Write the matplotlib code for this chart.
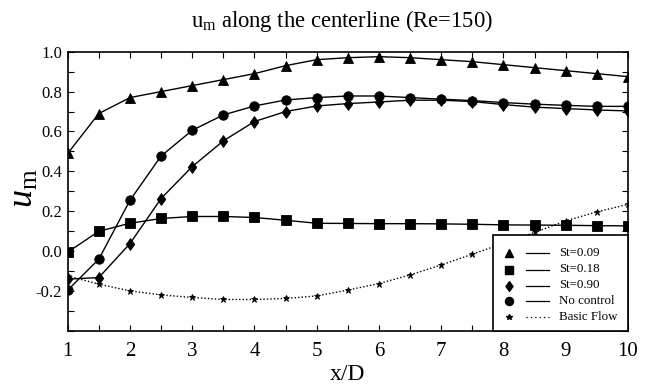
import matplotlib
matplotlib.use("Agg")
import matplotlib.pyplot as plt
from matplotlib.ticker import MultipleLocator, FixedLocator
from matplotlib.patches import Rectangle

plt.rcParams['font.family'] = ['Liberation Serif', 'DejaVu Serif']
plt.rcParams['mathtext.fontset'] = 'custom'
plt.rcParams['mathtext.rm'] = 'Liberation Serif'
plt.rcParams['mathtext.it'] = 'Liberation Serif:italic'
plt.rcParams['axes.unicode_minus'] = False

x = [1, 1.5, 2, 2.5, 3, 3.5, 4, 4.5, 5, 5.5, 6, 6.5, 7, 7.5, 8, 8.5, 9, 9.5, 10]
st009 = [0.49, 0.69, 0.77, 0.80, 0.83, 0.86, 0.89, 0.93, 0.96, 0.97, 0.975, 0.97, 0.96, 0.95, 0.935, 0.92, 0.905, 0.89, 0.875]
st018 = [-0.005, 0.10, 0.14, 0.164, 0.174, 0.174, 0.169, 0.155, 0.14, 0.139, 0.138, 0.138, 0.137, 0.135, 0.132, 0.131, 0.13, 0.128, 0.127]
st090 = [-0.14, -0.132, 0.038, 0.264, 0.424, 0.553, 0.65, 0.70, 0.728, 0.74, 0.748, 0.757, 0.757, 0.75, 0.735, 0.722, 0.715, 0.708, 0.703]
noctrl = [-0.195, -0.04, 0.255, 0.477, 0.606, 0.683, 0.728, 0.758, 0.77, 0.778, 0.778, 0.77, 0.762, 0.755, 0.745, 0.737, 0.731, 0.726, 0.726]
basic = [-0.124, -0.165, -0.199, -0.219, -0.232, -0.242, -0.242, -0.237, -0.224, -0.195, -0.162, -0.119, -0.069, -0.015, 0.04, 0.094, 0.152, 0.197, 0.235]

labels = ['St=0.09', 'St=0.18', 'St=0.90', 'No control', 'Basic Flow']

diamond = [(0, 1), (0.72, 0), (0, -1), (-0.72, 0), (0, 1)]
markers = ['^', 's', diamond, 'o', '*']
msizes = [7.5, 6.5, 8.5, 6.8, 5]
leg_ms = [5.5, 5.2, 7, 5.8, 4]
styles = ['-', '-', '-', '-', (0, (1, 1.5))]

W, H = 649, 385
fig = plt.figure(figsize=(W / 100, H / 100), dpi=100)
L, R, T, B = 67.7, 628, 51.7, 331
ax = fig.add_axes([L / W, 1 - B / H, (R - L) / W, (B - T) / H])

series = [st009, st018, st090, noctrl, basic]
for ys, m, ms, st in zip(series, markers, msizes, styles):
    ax.plot(x, ys, color='black', lw=1.0, ls=st, marker=m, ms=ms, mew=0.6, zorder=3)

ax.set_xlim(1, 10)
ax.set_ylim(-0.4, 1.0)
ax.xaxis.set_major_locator(MultipleLocator(1))
ax.xaxis.set_minor_locator(MultipleLocator(0.5))
ax.yaxis.set_major_locator(FixedLocator([-0.2, 0.0, 0.2, 0.4, 0.6, 0.8, 1.0]))
ax.yaxis.set_minor_locator(MultipleLocator(0.1))
ax.set_yticklabels(['-0.2', '0.0', '0.2', '0.4', '0.6', '0.8', '1.0'])
ax.tick_params(which='both', direction='in', top=True, right=True, length=4, width=0.8)
ax.tick_params(axis='x', labelsize=15, pad=8)
ax.tick_params(axis='y', labelsize=12, pad=4)
for s in ax.spines.values():
    s.set_linewidth(1.2)

ax.set_xlabel('x/D', fontsize=17, labelpad=2)
fig.text(24 / W, 1 - 188 / H, r'$u_{\rm m}$', fontsize=26, rotation=90, ha='center', va='center')
fig.text(342 / W, 1 - 21 / H, r'u$_{\rm m}$ along the centerline (Re=150)', fontsize=16.3, ha='center', va='center')

# legend box (drawn in axes fraction coordinates)
lx0 = (492.7 - L) / (R - L)
lh_ = (B - 235) / (B - T)
ax.add_patch(Rectangle((lx0, 0.0), 1 - lx0, lh_, transform=ax.transAxes, facecolor='white',
                       edgecolor='black', lw=1.2, zorder=5, clip_on=False))
rows_y = [253, 269.5, 285.5, 301, 316.7]
mx = (509 - L) / (R - L)
l0 = (526 - L) / (R - L)
l1 = (549 - L) / (R - L)
tx = (559 - L) / (R - L)
for lab, m, ry, ms, st in zip(labels, markers, rows_y, leg_ms, styles):
    fy = (B - ry) / (B - T)
    ax.plot([mx], [fy], transform=ax.transAxes, marker=m, color='black', ms=ms,
            ls='none', zorder=6, clip_on=False)
    ax.plot([l0, l1], [fy, fy], transform=ax.transAxes, color='black', lw=0.9,
            ls=((0, (1, 2.5)) if st != '-' else '-'), zorder=6, clip_on=False)
    ax.text(tx, fy, lab, transform=ax.transAxes, fontsize=9.3, va='center', ha='left', zorder=6)

fig.savefig('out.png', dpi=100)
